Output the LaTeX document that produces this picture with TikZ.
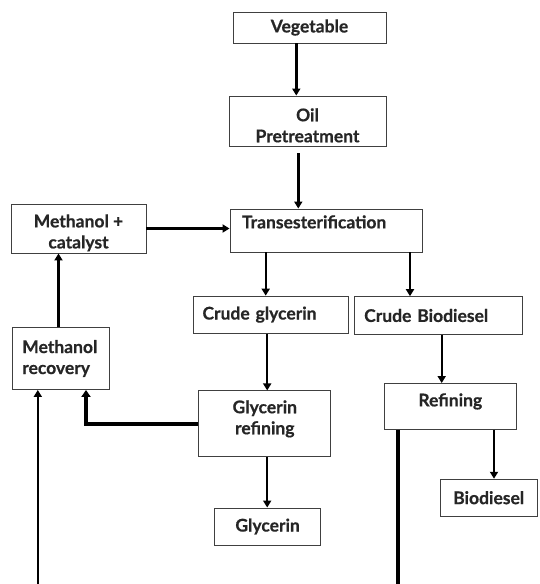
\documentclass[tikz,border=0pt]{standalone}
\usepackage{fontspec}
\setmainfont{Lato}[BoldFeatures={FakeBold=0.6}]
\usetikzlibrary{arrows.meta}
\definecolor{txt}{HTML}{262626}
\definecolor{edge}{HTML}{404040}
\tikzset{
  box/.style={draw=edge, line width=0.9pt, inner sep=0pt, text=txt, font=\bfseries\fontsize{17.5}{21}\selectfont, align=center},
  arr/.style={line width=2.4pt, -{Triangle[width=8pt,length=7pt]}},
  thickarr/.style={line width=3.6pt, -{Triangle[width=9pt,length=7pt]}},
  thickline/.style={line width=4pt}
}
\begin{document}
\begin{tikzpicture}[x=1pt,y=-1pt]
\useasboundingbox (0,0) rectangle (539,584);
% boxes
\node[box, minimum width=153pt, minimum height=31pt] (veg) at (309.5,27.5) {Vegetable};
\node[box, minimum width=157pt, minimum height=50pt] (oil) at (307.5,121) {\strut\\[-14pt]Oil\\Pretreatment};
\node[box, minimum width=192pt, minimum height=43pt, text width=168pt, align=left] (trans) at (326,230.5) {Transesterification\\[-10pt]\strut};
\node[box, minimum width=135pt, minimum height=49pt] (mcat) at (78.5,228.5) {\strut\\[-14pt]Methanol +\\catalyst};
\node[box, minimum width=155pt, minimum height=37pt, text width=137pt, align=left] (cgly) at (271,314.6) {Crude glycerin};
\node[box, minimum width=168.5pt, minimum height=37.7pt, text width=148pt, align=left] (cbio) at (438.2,315.5) {Crude Biodiesel};
\node[box, minimum width=97pt, minimum height=62pt, text width=78pt, align=left] (mrec) at (61.3,358.5) {Methanol\\recovery};
\node[box, minimum width=132pt, minimum height=66pt] (gref) at (264.8,423.9) {Glycerin\\refining\\[-14pt]\strut};
\node[box, minimum width=132pt, minimum height=46pt] (ref) at (450.3,406.5) {Refining\\[-14pt]\strut};
\node[box, minimum width=96.6pt, minimum height=37pt] (bio) at (488.7,497.7) {Biodiesel};
\node[box, minimum width=105.6pt, minimum height=37pt] (gly) at (267.6,526.5) {Glycerin};
% x positions
\coordinate (c1) at (296.3,0);
\coordinate (c2) at (298.3,0);
\coordinate (c3) at (265.7,0);
\coordinate (c4) at (410,0);
\coordinate (c5) at (267.2,0);
\coordinate (c6) at (58.5,0);
\coordinate (c7) at (86,0);
\coordinate (bl) at (37.8,584);
\coordinate (c8) at (441.7,0);
\coordinate (br) at (398,584);
\coordinate (c9) at (494,0);
\coordinate (oilgap) at (298.3,153);
% connectors
\draw[arr] (veg.south -| c1) -- (oil.north -| c1);
\draw[arr] (oilgap) -- (trans.north -| c2);
\draw[arr] (mcat.east) -- (mcat.east -| trans.west);
\draw[arr] (trans.south -| c3) -- (cgly.north -| c3);
\draw[arr] (trans.south -| c4) -- (cbio.north -| c4);
\draw[arr] (cgly.south -| c5) -- (gref.north -| c5);
\draw[arr] (gref.south -| c5) -- (gly.north -| c5);
\draw[arr] (mrec.north -| c6) -- (mcat.south -| c6);
\draw[thickarr] (gref.west) -| (mrec.south -| c7);
\draw[arr] (bl) -- (mrec.south -| bl);
\draw[arr] (cbio.south -| c8) -- (ref.north -| c8);
\draw[thickline] (ref.south -| br) -- (br);
\draw[arr] (ref.south -| c9) -- (bio.north -| c9);
\end{tikzpicture}
\end{document}
